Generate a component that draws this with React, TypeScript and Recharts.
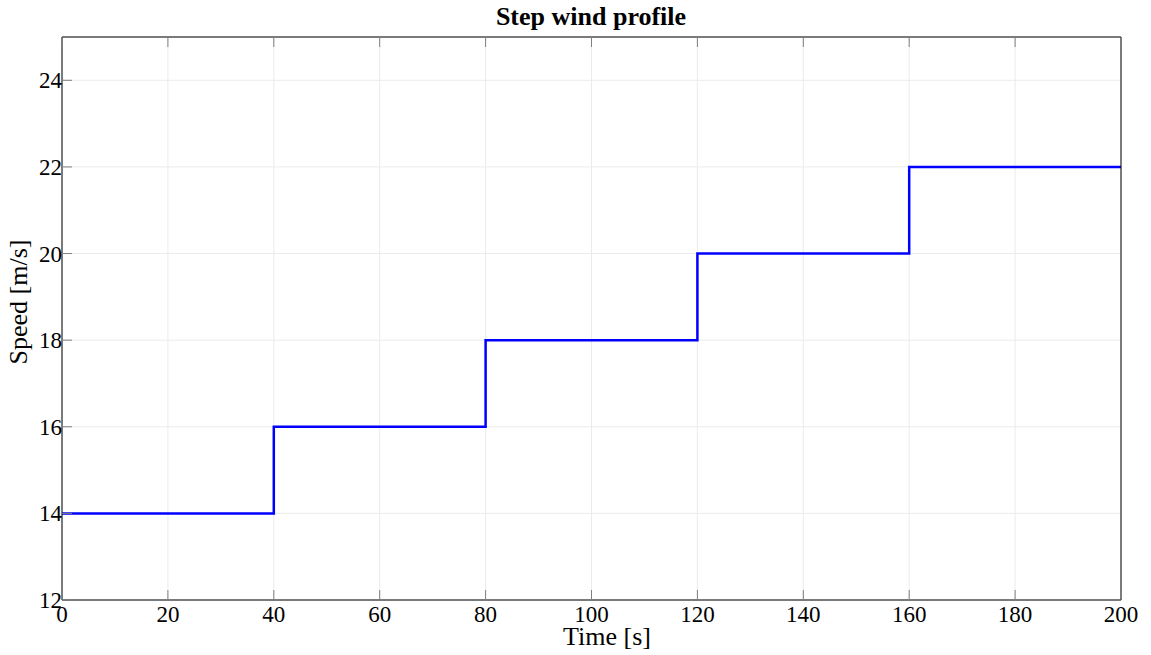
import React from "react";
import { LineChart, Line, XAxis, YAxis, CartesianGrid } from "recharts";

const times = [0, 40, 80, 120, 160, 200];
const speeds = [14, 16, 18, 20, 22, 22];
const xTicks = [0, 20, 40, 60, 80, 100, 120, 140, 160, 180, 200];
const yTicks = [12, 14, 16, 18, 20, 22, 24];

const data = times.map((t, i) => ({ t, v: speeds[i] }));

const FONT = "'Liberation Serif', 'Times New Roman', serif";
const TICK_COLOR = "#7f7f7f";
const TICK_LEN = 10;
const TICK_FONT = 23;
const textStyle = { fontFamily: FONT, fontSize: TICK_FONT };

const BottomTick = (props: any) => {
  const { x, y, payload } = props;
  return (
    <g>
      <line x1={x} y1={y} x2={x} y2={y - TICK_LEN} stroke={TICK_COLOR} />
      <text x={x} y={y + 22} textAnchor="middle" style={textStyle} fill="#000">
        {payload.value}
      </text>
    </g>
  );
};

const TopTick = (props: any) => {
  const { x, y } = props;
  return <line x1={x} y1={y} x2={x} y2={y + TICK_LEN} stroke={TICK_COLOR} />;
};

const LeftTick = (props: any) => {
  const { x, y, payload } = props;
  return (
    <g>
      <line x1={x} y1={y} x2={x + TICK_LEN} y2={y} stroke={TICK_COLOR} />
      <text x={x} y={y} dy="0.35em" textAnchor="end" style={textStyle} fill="#000">
        {payload.value}
      </text>
    </g>
  );
};

const RightTick = (props: any) => {
  const { x, y } = props;
  return <line x1={x} y1={y} x2={x - TICK_LEN} y2={y} stroke={TICK_COLOR} />;
};

const App = () => {
  return (
    <div style={{ position: "absolute", left: 0, top: 0, width: 1151, height: 655, fontFamily: FONT }}>
      <LineChart
        width={1151}
        height={655}
        data={data}
        margin={{ top: 36, right: 29, bottom: 54, left: 61 }}
      >
        <CartesianGrid stroke="#ebebeb" strokeWidth={1} />
        <XAxis
          dataKey="t"
          type="number"
          domain={[0, 200]}
          ticks={xTicks}
          height={1}
          tickSize={0}
          tickMargin={0}
          tickLine={false}
          axisLine={{ stroke: "#000" }}
          tick={<BottomTick />}
          interval={0}
        />
        <XAxis
          xAxisId="top"
          orientation="top"
          dataKey="t"
          type="number"
          domain={[0, 200]}
          ticks={xTicks}
          height={1}
          tickSize={0}
          tickMargin={0}
          tickLine={false}
          axisLine={{ stroke: "#000" }}
          tick={<TopTick />}
          interval={0}
        />
        <YAxis
          type="number"
          domain={[12, 25]}
          ticks={yTicks}
          width={1}
          tickSize={0}
          tickMargin={0}
          tickLine={false}
          axisLine={{ stroke: "#000" }}
          tick={<LeftTick />}
          interval={0}
        />
        <YAxis
          yAxisId="right"
          orientation="right"
          type="number"
          domain={[12, 25]}
          ticks={yTicks}
          width={1}
          tickSize={0}
          tickMargin={0}
          tickLine={false}
          axisLine={{ stroke: "#000" }}
          tick={<RightTick />}
          interval={0}
        />
        <Line
          type="stepAfter"
          dataKey="v"
          stroke="#0000ff"
          strokeWidth={2.5}
          dot={false}
          activeDot={false}
          isAnimationActive={false}
        />
      </LineChart>
      <div
        style={{
          position: "absolute",
          left: 391,
          top: 4,
          width: 400,
          textAlign: "center",
          fontSize: 26,
          lineHeight: "26px",
          fontWeight: "bold",
          color: "#000",
        }}
      >
        Step wind profile
      </div>
      <div
        style={{
          position: "absolute",
          left: 457,
          top: 624,
          width: 300,
          textAlign: "center",
          fontSize: 26,
          lineHeight: "26px",
          color: "#000",
        }}
      >
        Time [s]
      </div>
      <div
        style={{
          position: "absolute",
          left: -131,
          top: 289,
          width: 300,
          height: 26,
          textAlign: "center",
          fontSize: 26,
          lineHeight: "26px",
          color: "#000",
          transform: "rotate(-90deg)",
        }}
      >
        Speed [m/s]
      </div>
    </div>
  );
};

export default App;
